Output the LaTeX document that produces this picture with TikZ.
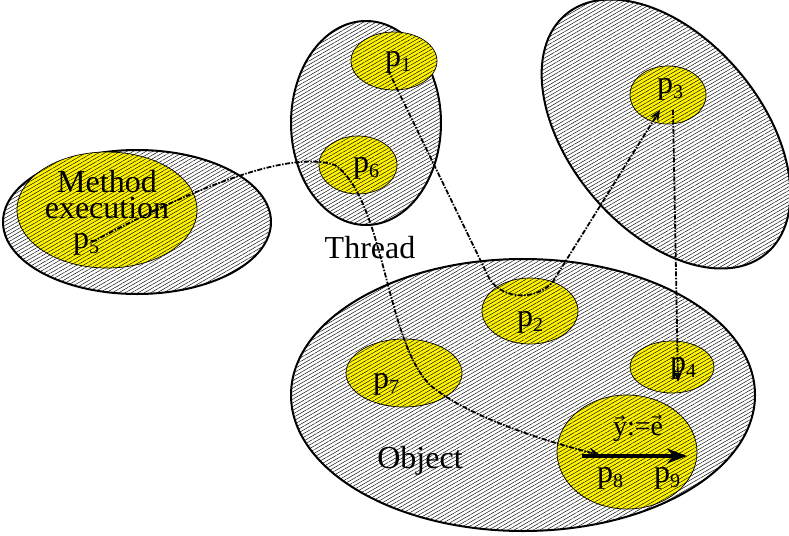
\documentclass[tikz,border=0pt]{standalone}
\usepackage{fontspec}
\setmainfont{Liberation Serif}
\newfontfamily\arrowfont{DejaVu Sans}
\usetikzlibrary{shapes.geometric,patterns.meta,arrows.meta}
\definecolor{partyellow}{RGB}{255,245,0}
\newcommand{\pname}[1]{p\raisebox{-0.35ex}{\fontsize{20}{20}\selectfont #1}}
\newcommand{\ovarrow}[1]{\leavevmode\vbox{\offinterlineskip\halign{\hfil##\hfil\cr{\arrowfont\fontsize{13}{13}\selectfont →}\cr\noalign{\kern0pt}#1\cr}}}

\begin{document}
\begin{tikzpicture}[x=1pt,y=-1pt,
    hatch/.style={pattern={Lines[angle=30,distance=3.2pt,line width=0.45pt]}, pattern color=black},
    region/.style={ellipse, draw, line width=2pt, inner sep=0pt, hatch, preaction={fill=white}},
    part/.style={ellipse, draw, line width=0.7pt, inner sep=0pt, hatch, preaction={fill=partyellow}},
    lbl/.style={font=\fontsize{32}{32}\selectfont, inner sep=0pt},
    flow/.style={line width=1.8pt, dash pattern=on 5pt off 1.5pt on 1.5pt off 1.5pt, -{Stealth[length=11pt,width=9pt]}}]
  \useasboundingbox (0,0) rectangle (789,535);
  % containers
  \node[region, minimum width=268, minimum height=144] (method) at (137,222) {};
  \node[region, minimum width=150, minimum height=204] (thread) at (366,123) {};
  \node[region, rotate=-50, minimum width=312, minimum height=192] (other) at (666,134) {};
  \node[region, minimum width=464, minimum height=272] (object) at (523,395) {};
  % parts
  \node[part, minimum width=180, minimum height=116] (e5) at (107,210) {};
  \node[part, minimum width=86, minimum height=58] (e1) at (394,61) {};
  \node[part, minimum width=78, minimum height=58] (e6) at (358,165) {};
  \node[part, minimum width=76, minimum height=58] (e3) at (668,95) {};
  \node[part, minimum width=96, minimum height=66] (e2) at (530,311) {};
  \node[part, minimum width=116, minimum height=68] (e7) at (404,373) {};
  \node[part, minimum width=84, minimum height=52] (e4) at (672,367) {};
  \node[part, minimum width=140, minimum height=114] (e89) at (627,452) {};
  % labels
  \node[lbl] (tmethod) at (107,182) {Method};
  \node[lbl] (texec) at (107,208) {execution};
  \node[lbl] (tthread) at (370,248) {Thread};
  \node[lbl] (tobject) at (420,461) {Object};
  \node[lbl] (l1) at (398,62) {\pname{1}};
  \node[lbl] (l2) at (530,322) {\pname{2}};
  \node[lbl] (l3) at (670,89) {\pname{3}};
  \node[lbl] (l4) at (683,368) {\pname{4}};
  \node[lbl] (l5) at (86,244) {\pname{5}};
  \node[lbl] (l6) at (366,168) {\pname{6}};
  \node[lbl] (l7) at (386,384) {\pname{7}};
  \node[lbl] (l8) at (610,478) {\pname{8}};
  \node[lbl] (l9) at (667,478) {\pname{9}};
  \node[lbl, font=\fontsize{28}{28}\selectfont] (assign) at (638,428) {\ovarrow{y}:=\ovarrow{e}};
  % connector ends
  \coordinate (s5) at (92,242);
  \coordinate (s1) at (388,70);
  \coordinate (b2) at (490,280);
  \coordinate (c2) at (552,283);
  \coordinate (t3) at (660,110);
  \coordinate (s3) at (673,110);
  \coordinate (t4) at (678,382);
  \coordinate (a8) at (582,456);
  \coordinate (a9) at (687,456);
  % flows
  \draw[flow] (s5) .. controls (200,185) and (290,150) .. (335,165)
    .. controls (385,200) and (385,340) .. (430,385)
    .. controls (465,415) and (540,440) .. (600,455);
  \draw[flow] (s1) -- (b2) .. controls (505,300) and (535,300) .. (c2) -- (t3);
  \draw[flow] (s3) -- (t4);
  \draw[line width=3.5pt, -{Stealth[length=20pt,width=15pt]}] (a8) -- (a9);
\end{tikzpicture}
\end{document}
